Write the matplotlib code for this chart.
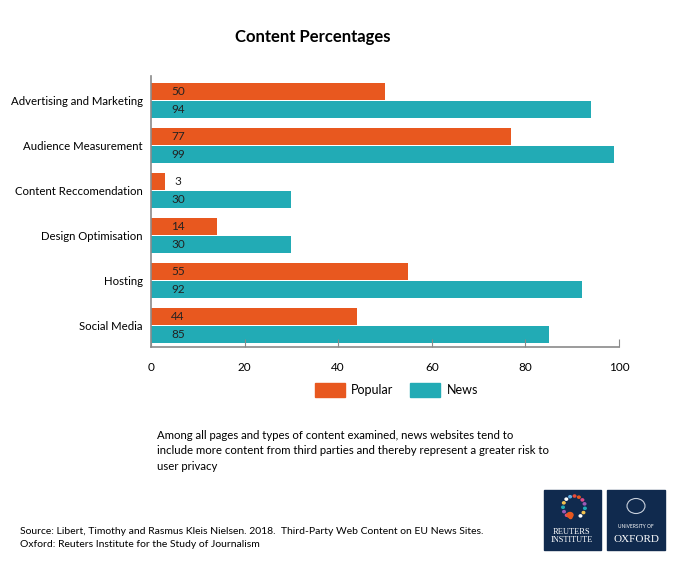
import matplotlib.pyplot as plt
import matplotlib.patches as mpatches
import numpy as np

plt.rcParams['font.family'] = ['Lato', 'DejaVu Sans']

categories = ['Advertising and Marketing', 'Audience Measurement', 'Content Reccomendation',
              'Design Optimisation', 'Hosting', 'Social Media']
popular = [50, 77, 3, 14, 55, 44]
news = [94, 99, 30, 30, 92, 85]
x_ticks = [0, 20, 40, 60, 80, 100]

ORANGE = '#e8581f'
TEAL = '#22abb5'
NAVY = '#102a4e'
SPINE = '#8a8a8a'

fig = plt.figure(figsize=(6.8, 5.67), dpi=100)
ax = fig.add_axes([151 / 680, 1 - 347 / 567, 468 / 680, 271 / 567])

y = np.arange(len(categories))
ax.barh(y - 0.2, popular, height=0.36, color=ORANGE)
ax.barh(y + 0.2, news, height=0.36, color=TEAL)

# value labels sit at a fixed spot near the axis
for i in range(len(categories)):
    ax.text(5.8, y[i] - 0.2, str(popular[i]), ha='center', va='center', fontsize=8.5, color='#222222')
    ax.text(5.8, y[i] + 0.2, str(news[i]), ha='center', va='center', fontsize=8.5, color='#222222')

ax.set_xlim(0, 100)
ax.set_ylim(5.478, -0.544)
ax.set_yticks(y)
ax.set_yticklabels(categories, fontsize=8.2)
ax.set_xticks(x_ticks)
ax.set_xticklabels([str(t) for t in x_ticks], fontsize=8.5)
ax.tick_params(axis='y', length=0, pad=6)
ax.tick_params(axis='x', direction='in', length=6, color=SPINE, pad=11)
for s in ['top', 'right']:
    ax.spines[s].set_visible(False)
for s in ['left', 'bottom']:
    ax.spines[s].set_color(SPINE)
    ax.spines[s].set_linewidth(1.2)

fig.text(313 / 680, 1 - 37 / 567, 'Content Percentages', ha='center', va='center',
         fontsize=12, fontweight='bold')

# legend drawn in figure coords
fig.patches.append(mpatches.Rectangle((315 / 680, 1 - 397 / 567), 30 / 680, 14 / 567,
                                      color=ORANGE, transform=fig.transFigure))
fig.text(351 / 680, 1 - 390 / 567, 'Popular', va='center', fontsize=9)
fig.patches.append(mpatches.Rectangle((410 / 680, 1 - 397 / 567), 30 / 680, 14 / 567,
                                      color=TEAL, transform=fig.transFigure))
fig.text(447 / 680, 1 - 390 / 567, 'News', va='center', fontsize=9)

note = ('Among all pages and types of content examined, news websites tend to\n'
        'include more content from third parties and thereby represent a greater risk to\n'
        'user privacy')
fig.text(157 / 680, 1 - 430 / 567, note, va='top', fontsize=8.2, linespacing=1.5)

source = ('Source: Libert, Timothy and Rasmus Kleis Nielsen. 2018.  Third-Party Web Content on EU News Sites.\n'
          'Oxford: Reuters Institute for the Study of Journalism')
fig.text(20 / 680, 1 - 538 / 567, source, va='center', fontsize=7.5, linespacing=1.5)

# logos
fig.patches.append(mpatches.Rectangle((544 / 680, 1 - 550 / 567), 57 / 680, 60 / 567,
                                      color=NAVY, transform=fig.transFigure))
fig.patches.append(mpatches.Rectangle((607 / 680, 1 - 550 / 567), 58 / 680, 60 / 567,
                                      color=NAVY, transform=fig.transFigure))
ring = ['#e8581f', '#e04a8a', '#9b59b6', '#22abb5', '#f2c14e', '#ffffff', '#5dade2', '#e74c3c']
for k, ang in enumerate(np.linspace(0.6 * np.pi, 2.3 * np.pi, 14)):
    cx = 574 + 11 * np.cos(ang)
    cy = 507 + 11 * np.sin(ang)
    fig.patches.append(mpatches.Circle((cx / 680, 1 - cy / 567), 1.3 / 680,
                                       color=ring[k % len(ring)], transform=fig.transFigure))
fig.patches.append(mpatches.Circle((570 / 680, 1 - 515 / 567), 3 / 680,
                                   color=ORANGE, transform=fig.transFigure))
fig.text(572 / 680, 1 - 536 / 567, 'REUTERS\nINSTITUTE', ha='center', va='center', color='white',
         fontsize=6, family='Liberation Serif', linespacing=1.0)
fig.patches.append(mpatches.Circle((636 / 680, 1 - 506 / 567), 9 / 680,
                                   facecolor='none', edgecolor='#c8d0dc', lw=0.8, transform=fig.transFigure))
fig.text(636 / 680, 1 - 527 / 567, 'UNIVERSITY OF', ha='center', va='center', color='white', fontsize=3.5)
fig.text(636 / 680, 1 - 539 / 567, 'OXFORD', ha='center', va='center', color='white',
         fontsize=8, family='Liberation Serif')

fig.savefig('out.png', dpi=100)
